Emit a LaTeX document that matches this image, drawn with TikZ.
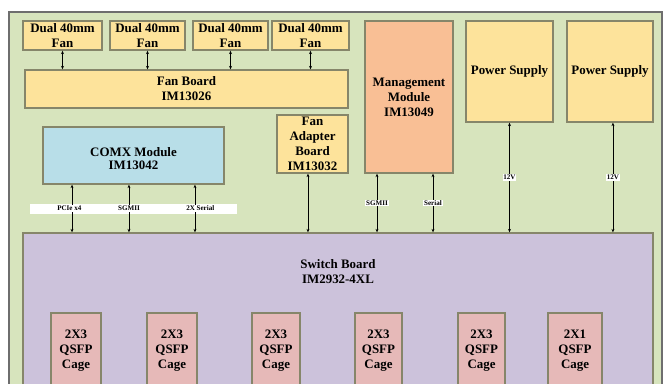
\documentclass[tikz,border=0pt]{standalone}
\usepackage{fontspec}
\setmainfont{Liberation Serif}
\usetikzlibrary{fit,arrows.meta,calc}
\definecolor{framegreen}{HTML}{D7E4BD}
\definecolor{frameline}{HTML}{6E6E6E}
\definecolor{boxline}{HTML}{86866A}
\definecolor{fanyellow}{HTML}{FDE39B}
\definecolor{mmorange}{HTML}{F9BF95}
\definecolor{comxblue}{HTML}{B8DEE8}
\definecolor{sblav}{HTML}{CCC2DB}
\definecolor{cagepink}{HTML}{E6B9B8}
\begin{document}
\begin{tikzpicture}[x=0.75pt,y=-0.75pt,
  frame/.style={draw=frameline, fill=framegreen, line width=1.2pt, inner sep=0pt},
  box/.style={draw=boxline, line width=1pt, inner sep=0pt},
  fanbox/.style={box, fill=fanyellow},
  cage/.style={box, fill=cagepink},
  txt/.style={align=center, inner sep=0pt, font=\bfseries\fontsize{9.7}{11.2}\selectfont},
  intext/.style={label={[txt]center:{#1}}},
  conn/.style={{Stealth[length=2.6pt,width=2.2pt]}-{Stealth[length=2.6pt,width=2.2pt]}, line width=0.5pt, black},
  lbl/.style={fill=white, inner sep=0.6pt, font=\bfseries\fontsize{5.3}{6}\selectfont}]
\useasboundingbox (0,0) rectangle (667,383);
\clip (0,0) rectangle (667,383);
\fill[white] (0,0) rectangle (667,383);
\node[frame, fit={(9,12) (662,420)}] (frame) {};
% fans
\node[fanbox, fit={(23,21) (102,50)}, intext={Dual 40mm\\Fan}] (f1) {};
\node[fanbox, fit={(110,21) (185,50)}, intext={Dual 40mm\\Fan}] (f2) {};
\node[fanbox, fit={(193,21) (268,50)}, intext={Dual 40mm\\Fan}] (f3) {};
\node[fanbox, fit={(272,21) (349,50)}, intext={Dual 40mm\\Fan}] (f4) {};
\node[fanbox, fit={(25,70) (348,108)}, intext={Fan Board\\IM13026}] (fb) {};
% management & power
\node[box, fill=mmorange, fit={(365,21) (453,173)}, intext={Management\\Module\\IM13049}] (mm) {};
\node[fanbox, fit={(466,21) (553,122)}, intext={Power Supply}] (ps1) {};
\node[fanbox, fit={(567,21) (653,122)}, intext={Power Supply}] (ps2) {};
% comx & fan adapter
\node[box, fill=comxblue, fit={(43,127) (224,184)},
  label={[txt, font=\bfseries\fontsize{9.7}{9.5}\selectfont, yshift=-2.5pt]center:{COMX Module\\IM13042}}] (comx) {};
\node[fanbox, fit={(277,115) (348,173)}, intext={Fan\\Adapter\\Board\\IM13032}] (fab) {};
% switch board
\node[box, fill=sblav, fit={(23,233) (653,420)}] (sb) {};
\node[txt] (sbtext) at (338,272) {Switch Board\\IM2932-4XL};
% cages
\node[cage, fit={(51,313) (101,389)}, intext={2X3\\QSFP\\Cage}] (c1) {};
\node[cage, fit={(147,313) (197,389)}, intext={2X3\\QSFP\\Cage}] (c2) {};
\node[cage, fit={(252,313) (300,389)}, intext={2X3\\QSFP\\Cage}] (c3) {};
\node[cage, fit={(355,313) (402,389)}, intext={2X3\\QSFP\\Cage}] (c4) {};
\node[cage, fit={(458,313) (505,389)}, intext={2X3\\QSFP\\Cage}] (c5) {};
\node[cage, fit={(548,313) (602,389)}, intext={2X1\\QSFP\\Cage}] (c6) {};
% fan connectors
\foreach \f in {f1,f2,f3,f4}
  \draw[conn] (\f.south) -- (\f.south |- fb.north);
% white label strip under COMX
\fill[white] (30,204) rectangle (237,214);
% COMX connectors
\draw[conn] ([xshift=-46.1pt]comx.south) -- ([xshift=-46.1pt]comx.south |- sb.north) node[lbl, midway, xshift=-2pt] {PCIe x4};
\draw[conn] ([xshift=-3.4pt]comx.south) -- ([xshift=-3.4pt]comx.south |- sb.north) node[lbl, midway] {SGMII};
\draw[conn] ([xshift=46.1pt]comx.south) -- ([xshift=46.1pt]comx.south |- sb.north) node[lbl, midway, xshift=4pt] {2X Serial};
% fan adapter connector
\draw[conn] ([xshift=-3.4pt]fab.south) -- ([xshift=-3.4pt]fab.south |- sb.north);
% management connectors
\draw[conn] ([xshift=-24pt]mm.south) -- ([xshift=-24pt]mm.south |- sb.north) node[lbl, midway] {SGMII};
\draw[conn] ([xshift=18pt]mm.south) -- ([xshift=18pt]mm.south |- sb.north) node[lbl, midway] {Serial};
% power connectors
\draw[conn] (ps1.south) -- (ps1.south |- sb.north) node[lbl, midway] {12V};
\draw[conn] ([xshift=2.2pt]ps2.south) -- ([xshift=2.2pt]ps2.south |- sb.north) node[lbl, midway] {12V};
\end{tikzpicture}
\end{document}
